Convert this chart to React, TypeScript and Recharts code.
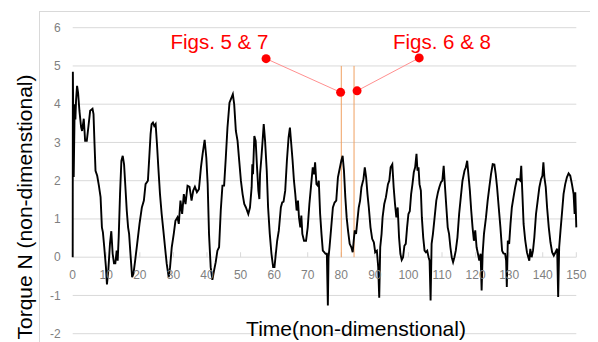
import {
  LineChart,
  Line,
  XAxis,
  YAxis,
  CartesianGrid,
  ReferenceLine,
  ReferenceDot,
} from "recharts";

// time (non-dimensional)
const time = [
  0, 0.05, 0.3, 0.6, 0.8, 1.0, 1.3, 1.6, 2.0, 2.5,
  2.8, 3.3, 3.7, 4.2, 4.7, 5.2, 5.9, 6.2, 6.5, 6.8,
  7.3, 7.8, 8.3, 8.7, 9.0, 9.4, 9.9, 10.2, 10.6, 11.1,
  11.5, 11.9, 12.3, 12.7, 13.1, 13.4, 13.7, 14.1, 14.5, 14.9,
  15.3, 15.7, 16.1, 16.5, 16.8, 17.2, 17.7, 18.1, 18.6, 19.2,
  19.9, 20.6, 21.2, 21.7, 22.4, 22.8, 23.2, 23.5, 23.9, 24.3,
  24.7, 25.1, 25.5, 26.0, 26.5, 27.0, 27.5, 28.0, 28.3, 28.6,
  29.0, 29.5, 30.1, 30.6, 31.2, 31.6, 32.1, 32.6, 33.1, 33.6,
  34.2, 34.8, 35.4, 35.9, 36.4, 37.0, 37.6, 38.2, 38.7, 39.3,
  39.8, 40.2, 40.6, 41.1, 41.6, 42.1, 42.6, 43.1, 43.6, 44.1,
  44.6, 45.1, 45.6, 46.1, 46.7, 47.3, 47.7, 48.1, 48.6, 49.1,
  49.6, 50.1, 50.6, 51.1, 51.6, 52.3, 52.8, 53.3, 53.5, 53.7,
  54.1, 54.5, 54.9, 55.3, 55.6, 55.8, 56.2, 56.6, 56.9, 57.3,
  57.8, 58.2, 58.7, 59.2, 59.7, 60.1, 60.5, 60.9, 61.4, 62.0,
  62.4, 62.8, 63.3, 63.8, 64.3, 64.7, 65.1, 65.5, 65.9, 66.3,
  66.7, 67.1, 67.4, 67.8, 68.1, 68.4, 68.9, 69.5, 70.0, 70.5,
  71.0, 71.5, 71.9, 72.2, 72.6, 73.0, 73.3, 73.7, 74.1, 74.5,
  74.9, 75.3, 75.7, 76.0, 76.2, 76.5, 77.0, 77.5, 78.0, 78.5,
  79.0, 79.4, 80.0, 80.4, 80.8, 81.2, 81.6, 82.0, 82.5, 83.0,
  83.4, 83.7, 84.0, 84.4, 84.8, 85.2, 85.6, 86.0, 86.6, 87.0,
  87.4, 87.8, 88.2, 88.7, 89.2, 89.7, 90.1, 90.6, 91.0, 91.3,
  91.6, 92.0, 92.3, 92.8, 93.3, 93.9, 94.3, 94.7, 95.2, 95.6,
  96.0, 96.4, 96.8, 97.2, 97.6, 98.0, 98.4, 98.8, 99.2, 99.6,
  100.0, 100.4, 100.8, 101.2, 101.6, 102.0, 102.4, 102.7, 103.0, 103.3,
  103.7, 104.0, 104.4, 104.8, 105.2, 105.6, 106.0, 106.3, 106.6, 106.9,
  107.3, 107.8, 108.3, 108.8, 109.2, 109.7, 110.1, 110.5, 110.9, 111.3,
  111.7, 112.1, 112.5, 112.9, 113.3, 113.7, 114.1, 114.6, 115.1, 115.6,
  116.1, 116.7, 117.1, 117.5, 117.9, 118.3, 118.7, 119.1, 119.5, 119.9,
  120.3, 120.7, 121.1, 121.5, 121.8, 122.1, 122.5, 123.1, 123.6, 124.1,
  124.6, 125.1, 125.6, 126.0, 126.4, 126.9, 127.4, 127.9, 128.3, 128.8,
  129.1, 129.3, 129.6, 130.0, 130.4, 130.8, 131.3, 131.8, 132.3, 132.8,
  133.3, 133.6, 133.9, 134.3, 134.8, 135.3, 135.7, 136.0, 136.3, 136.7,
  137.1, 137.5, 138.0, 138.5, 139.0, 139.5, 139.9, 140.2, 140.5, 140.9,
  141.3, 141.8, 142.3, 142.8, 143.3, 143.8, 144.3, 144.6, 144.9, 145.3,
  145.8, 146.2, 146.7, 147.2, 147.7, 148.2, 148.7, 149.2, 149.5, 149.7,
  150.0,
];

// torque N (non-dimensional), same order as time
const torque = [
  0, 4.85, 2.1, 4.0, 3.6, 4.1, 4.48, 4.3, 3.83, 3.4,
  3.3, 3.62, 3.04, 3.04, 3.43, 3.83, 3.88, 3.74, 2.96, 2.26,
  2.13, 1.87, 1.57, 0.78, 0.65, 0.26, -0.26, -0.71, -0.35, 0.35,
  0.68, 0.09, -0.16, -0.16, 0.17, -0.09, 0.52, 1.65, 2.52, 2.65,
  2.43, 1.83, 1.22, 0.78, 0.61, 0.09, -0.52, -0.43, -0.09, 0.35,
  0.87, 1.3, 1.48, 1.91, 2.0, 2.6, 3.22, 3.48, 3.52, 3.43,
  3.48, 2.96, 2.35, 1.65, 1.13, 0.7, 0.26, -0.17, -0.35, -0.52,
  -0.26, 0.26, 0.61, 0.95, 1.04, 0.87, 1.48, 1.13, 1.65, 1.39,
  1.87, 1.84, 1.48, 1.74, 1.84, 1.7, 1.78, 2.35, 2.7, 3.07,
  2.6, 1.91, 0.61, -0.26, -0.59, -0.35, -0.13, 0.17, 0.26, 1.22,
  1.87, 1.87, 2.6, 3.39, 4.04, 4.17, 4.26, 4.0, 3.3, 3.04,
  2.52, 2.0, 1.65, 1.39, 1.3, 1.13, 1.3, 1.83, 2.43, 2.17,
  3.17, 3.04, 2.35, 1.74, 1.52, 2.17, 2.6, 3.09, 3.48, 3.04,
  2.26, 1.3, 0.61, 0.09, -0.26, -0.26, 0.09, 0.43, 0.7, 1.3,
  1.43, 1.45, 1.74, 2.52, 3.13, 3.39, 2.96, 2.52, 2.0, 1.65,
  1.22, 1.48, 1.04, 0.78, 1.09, 0.61, 0.43, 0.43, 0.78, 1.39,
  1.87, 2.35, 2.17, 2.48, 1.91, 1.87, 2.0, 1.13, 0.61, 0.17,
  0.13, 0.09, 0.09, -1.26, 0.0, 0.26, 0.78, 1.3, 1.43, 1.48,
  2.09, 2.26, 2.52, 2.65, 2.26, 1.57, 1.04, 0.7, 0.35, 0.26,
  0.13, 0.43, 0.7, 0.61, 0.96, 1.3, 1.48, 1.83, 2.04, 2.35,
  2.09, 1.65, 1.3, 0.78, 0.48, 0.39, 0.13, 0.17, -0.26, -1.06,
  0.26, 0.61, 1.04, 1.39, 1.57, 1.91, 2.0, 2.35, 2.43, 1.83,
  1.39, 1.04, 1.3, 0.52, 0.09, -0.07, 0.0, 0.3, 0.35, 0.78,
  1.13, 1.2, 1.65, 1.91, 2.22, 2.35, 2.7, 2.26, 2.35, 1.91,
  1.74, 1.04, 0.52, 0.17, 0.13, 0.17, 0.0, -0.09, -1.13, 0.35,
  0.61, 1.04, 1.48, 1.7, 1.83, 1.96, 2.0, 2.39, 1.83, 1.3,
  0.78, 0.61, 0.26, 0.0, -0.13, 0.0, 0.17, 0.52, 1.13, 1.57,
  2.0, 2.26, 2.35, 2.52, 2.13, 1.74, 1.22, 0.78, 0.43, 0.7,
  0.26, 0.09, -0.09, 0.09, -0.87, 0.09, 0.61, 1.04, 1.48, 1.83,
  2.17, 2.43, 2.42, 2.17, 1.83, 1.3, 0.78, 0.17, 0.1, 0.09,
  -0.09, -0.78, 0.43, 0.35, 0.87, 1.3, 1.57, 1.83, 2.04, 2.04,
  2.0, 2.39, 1.74, 0.87, 0.43, 0.13, 0.0, -0.09, 0.22, 0.0,
  0.17, 0.52, 1.13, 1.48, 1.83, 2.04, 2.13, 2.48, 2.09, 1.83,
  1.3, 0.78, 0.39, 0.13, 0.04, 0.13, 0.22, -1.04, 0.26, 0.7,
  1.22, 1.65, 1.91, 2.09, 2.19, 2.13, 1.91, 1.65, 1.13, 1.7,
  0.78,
];

const xTicks = [0, 10, 20, 30, 40, 50, 60, 70, 80, 90, 100, 110, 120, 130, 140, 150];
const yTicks = [-2, -1, 0, 1, 2, 3, 4, 5, 6];

// orange markers at the two instants
const markerTimes = [80, 83.8];
const markerTop = 5;

// callouts: label, label position, far dot, near dot
const callouts = [
  { text: "Figs. 5 & 7", label: { x: 43.7, y: 5.63 }, from: { x: 57.6, y: 5.19 }, to: { x: 79.8, y: 4.31 } },
  { text: "Figs. 6 & 8", label: { x: 110.0, y: 5.63 }, from: { x: 103.2, y: 5.21 }, to: { x: 84.7, y: 4.35 } },
];

const data = time.map((t, i) => ({ t, torque: torque[i] }));

const FONT = "'Liberation Sans', Arial, sans-serif";
const GRID = "#d9d9d9";
const TICK = "#7f7f7f";

export default function App() {
  return (
    <div style={{ position: "relative", width: 590, height: 334, overflow: "hidden", fontFamily: FONT }}>
      <div
        style={{
          position: "absolute",
          left: 31,
          top: 3,
          width: 600,
          height: 400,
          borderLeft: `1px solid ${GRID}`,
          borderTop: `1px solid ${GRID}`,
        }}
      />
      <LineChart
        width={590}
        height={334}
        data={data}
        margin={{ top: 19.7, right: 21.7, left: 24.7, bottom: 8.3 }}
        style={{ position: "absolute", left: 0, top: 0 }}
      >
        <CartesianGrid vertical={false} stroke={GRID} />
        <XAxis type="number" dataKey="t" domain={[0, 150]} ticks={xTicks} hide />
        <YAxis
          type="number"
          domain={[-2, 6]}
          ticks={yTicks}
          width={40}
          axisLine={false}
          tickLine={false}
          tickSize={0}
          tickMargin={12}
          tick={{ fill: TICK, fontSize: 12, fontFamily: FONT }}
        />
        {xTicks.map((t) => (
          <ReferenceLine
            key={"tk" + t}
            segment={[{ x: t, y: 0 }, { x: t, y: 0.13 }]}
            stroke={GRID}
            strokeWidth={1}
          />
        ))}
        {xTicks.map((t) => (
          <ReferenceDot
            key={"tl" + t}
            x={t}
            y={0}
            r={0}
            fill="none"
            stroke="none"
            label={{ value: String(t), position: "bottom", offset: 13, fill: TICK, fontSize: 12, fontFamily: FONT }}
          />
        ))}
        {markerTimes.map((t) => (
          <ReferenceLine
            key={"m" + t}
            segment={[{ x: t, y: 0 }, { x: t, y: markerTop }]}
            stroke="#f0a060"
            strokeWidth={1}
          />
        ))}
        {callouts.map((c) => (
          <ReferenceLine
            key={"cl" + c.text}
            segment={[c.from, c.to]}
            stroke="#ff9090"
            strokeWidth={1}
          />
        ))}
        <Line
          type="linear"
          dataKey="torque"
          stroke="#000000"
          strokeWidth={1.9}
          dot={false}
          isAnimationActive={false}
        />
        {callouts.map((c) => (
          <ReferenceDot key={"d1" + c.text} x={c.from.x} y={c.from.y} r={4.5} fill="#ff0000" stroke="none" />
        ))}
        {callouts.map((c) => (
          <ReferenceDot key={"d2" + c.text} x={c.to.x} y={c.to.y} r={4.5} fill="#ff0000" stroke="none" />
        ))}
        {callouts.map((c) => (
          <ReferenceDot
            key={"lb" + c.text}
            x={c.label.x}
            y={c.label.y}
            r={0}
            fill="none"
            stroke="none"
            label={{ value: c.text, position: "center", fill: "#ff0000", fontSize: 20.5, fontFamily: FONT }}
          />
        ))}
      </LineChart>
      <svg
        width={590}
        height={334}
        style={{ position: "absolute", left: 0, top: 0, pointerEvents: "none" }}
      >
        <text
          x={348}
          y={327.7}
          textAnchor="middle"
          fontSize={21}
          fontFamily={FONT}
          fill="#000"
        >
          Time(non-dimenstional)
        </text>
        <text
          transform="translate(23.5,199) rotate(-90)"
          textAnchor="middle"
          fontSize={21}
          fontFamily={FONT}
          fill="#000"
        >
          Torque N (non-dimenstional)
        </text>
      </svg>
    </div>
  );
}
